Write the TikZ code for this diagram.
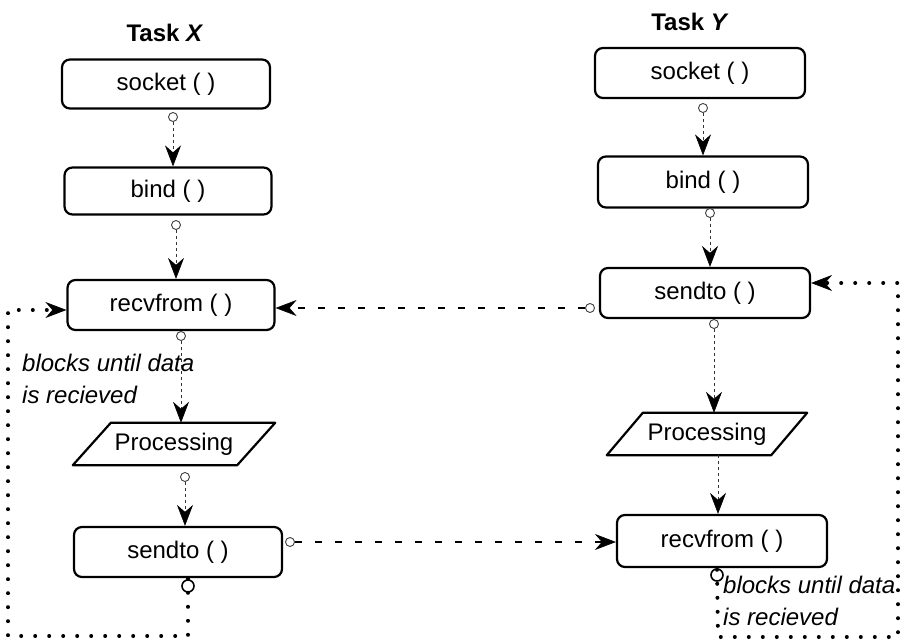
\documentclass[tikz,border=0pt]{standalone}
\usepackage{fontspec}
\setmainfont{Liberation Sans}
\usetikzlibrary{arrows.meta,calc}
\begin{document}
\begin{tikzpicture}[x=1pt,y=-1pt,
  box/.style={draw,line width=2.2pt,rounded corners=8pt,minimum width=208pt,minimum height=49pt,inner sep=0pt,font=\fontsize{24}{29}\selectfont},
  procnode/.style={minimum width=164pt,minimum height=42pt,inner sep=0pt,font=\fontsize{24}{29}\selectfont},
  title/.style={font=\fontsize{24}{29}\selectfont\bfseries},
  note/.style={font=\fontsize{24}{32}\selectfont\itshape,align=left,inner sep=0pt},
  smallc/.style={draw,circle,line width=0.9pt,minimum size=9pt,inner sep=0pt,black!75},
  bigc/.style={draw,circle,line width=1.6pt,minimum size=12pt,inner sep=0pt},
  tip/.style={-{Stealth[length=21pt,width=16pt,inset=7pt,line width=0.6pt,black,fill=black,sharp]}},
  vconn/.style={line width=1pt,dash pattern=on 3pt off 3pt,black!80,tip},
  hconn/.style={line width=1.6pt,dash pattern=on 7pt off 13pt,tip},
  loopconn/.style={line width=4pt,line cap=round,dash pattern=on 0pt off 14pt,tip}
]
\useasboundingbox (0,0) rectangle (911,644);

% Task X
\node[title] (tx) at (165,33) {Task \textit{X}};
\node[box] (sx) at (166,84) {socket ( )};
\node[box,minimum height=47pt,minimum width=207pt] (bx) at (168,191) {bind ( )};
\node[box,minimum height=50pt,minimum width=207pt] (rx) at (171,305) {recvfrom ( )};
\node[procnode] (px) at (174,444) {Processing};
\draw[line width=2.2pt,line join=round] ($(px.south west)+(-19,0)$) -- ($(px.south east)+(-19,0)$) -- ($(px.north east)+(19,0)$) -- ($(px.north west)+(19,0)$) -- cycle;
\node[box,minimum height=50pt] (dx) at (178,552) {sendto ( )};
\node[note,anchor=west] (nx) at (22,379) {blocks until data\\is recieved};

% Task Y
\node[title] (ty) at (690,22) {Task \textit{Y}};
\node[box,minimum width=210pt,minimum height=50pt] (sy) at (700,73) {socket ( )};
\node[box,minimum width=210pt,minimum height=51pt] (by) at (703,182) {bind ( )};
\node[box,minimum width=210pt,minimum height=50pt] (dy) at (705,293) {sendto ( )};
\node[procnode] (py) at (707,434) {Processing};
\draw[line width=2.2pt,line join=round] ($(py.south west)+(-18,0)$) -- ($(py.south east)+(-18,0)$) -- ($(py.north east)+(18,0)$) -- ($(py.north west)+(18,0)$) -- cycle;
\node[box,minimum width=210pt,minimum height=52pt] (ry) at (722,541) {recvfrom ( )};
\node[note,anchor=west] (ny) at (723,601) {blocks until data\\is recieved};

% vertical connectors X
\node[smallc] (c1) at (173,117) {};
\draw[vconn] (c1) -- (c1 |- bx.north);
\node[smallc] (c2) at (176,225) {};
\draw[vconn] (c2) -- (c2 |- rx.north);
\node[smallc] (c3) at (181,336) {};
\draw[vconn] (c3) -- (c3 |- px.north);
\node[smallc] (c4) at (185,477) {};
\draw[vconn] (c4) -- (c4 |- dx.north);

% vertical connectors Y
\node[smallc] (c5) at (703,108) {};
\draw[vconn] (c5) -- (c5 |- by.north);
\node[smallc] (c6) at (710,213) {};
\draw[vconn] (c6) -- (c6 |- dy.north);
\node[smallc] (c7) at (714,324) {};
\draw[vconn] (c7) -- (c7 |- py.north);
\coordinate (c8) at (718,455);
\draw[vconn] (c8) -- (c8 |- ry.north);

% horizontal dashed connectors
\node[smallc] (h1) at (590,308) {};
\draw[hconn] (h1) -- (rx.east |- h1);
\node[smallc] (h2) at (290,542) {};
\draw[hconn] (h2) -- (ry.west |- h2);

% loop back X
\node[bigc] (l1) at (188,586) {};
\coordinate (l1a) at (188,636);
\coordinate (l1b) at (8,636);
\coordinate (l1c) at (8,310);
\draw[loopconn] ([yshift=14pt]l1.south) -- (l1a) -- (l1b) -- (l1c) -- (rx.west |- l1c);

% loop back Y
\node[bigc] (l2) at (717,575) {};
\coordinate (l2a) at (718,637);
\coordinate (l2b) at (898,637);
\coordinate (l2c) at (898,283);
\draw[loopconn] ([yshift=12pt]l2.south) -- (l2a) -- (l2b) -- (l2c) -- (dy.east |- l2c);
\end{tikzpicture}
\end{document}
